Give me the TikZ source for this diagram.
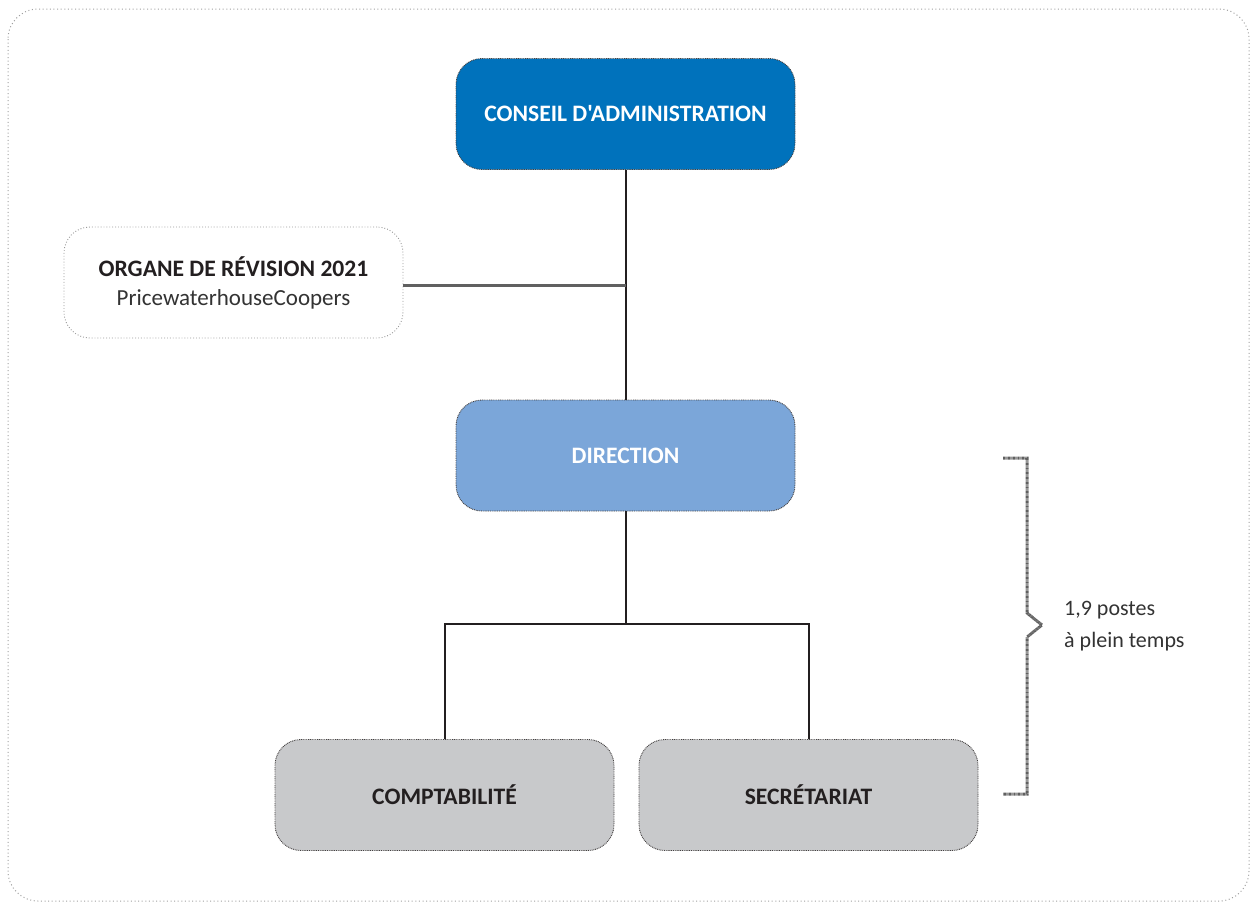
\documentclass[tikz,border=0pt]{standalone}
\usepackage{fontspec}
\setmainfont{Carlito}
\newfontfamily\labfont{Carlito}
\definecolor{cblue}{HTML}{0072BC}
\definecolor{lblue}{HTML}{7BA6D9}
\definecolor{lgray}{HTML}{C8C9CB}
\definecolor{ink}{HTML}{231F20}
\definecolor{txt}{HTML}{333333}
\tikzset{
  boxbase/.style={minimum width=339pt, minimum height=111pt, inner sep=0pt, rounded corners=26pt, align=center, font=\labfont\fontsize{23.6}{30}\selectfont\bfseries},
  dotborder/.style={draw=ink!85, line width=0.9pt, dash pattern=on 0.9pt off 0.9pt},
  bluebox/.style={boxbase, dotborder, fill=cblue, text=white},
  lbluebox/.style={boxbase, dotborder, fill=lblue, text=white},
  graybox/.style={boxbase, dotborder, fill=lgray, text=ink},
  whitebox/.style={boxbase, draw=gray!80, line width=0.9pt, dash pattern=on 0.9pt off 2pt, fill=white, text=ink},
  solidline/.style={draw=ink, line width=2pt},
  hatchline/.style={draw=gray!75!black, line width=3pt, dash pattern=on 0.55pt off 0.4pt},
}
\begin{document}
\begin{tikzpicture}[x=1pt,y=-1pt]
\useasboundingbox (0,0) rectangle (1250,903);
\begin{scope}
\clip (0,0) rectangle (1250,903);
\draw[gray!75, line width=1pt, dash pattern=on 1pt off 2.6pt, rounded corners=30pt] (8,9) rectangle (1249,901);
\end{scope}

\node[bluebox] (ca) at (625.5,114) {CONSEIL D'ADMINISTRATION};
\node[whitebox] (org) at (233.5,282.5) {ORGANE DE RÉVISION 2021\\[-1pt]{\mdseries\fontsize{23}{30}\selectfont\color{txt}PricewaterhouseCoopers}};
\node[lbluebox] (dir) at (625.5,455.5) {DIRECTION};
\node[graybox] (comp) at (444.5,795) {COMPTABILITÉ};
\node[graybox] (sec) at (808.5,795) {SECRÉTARIAT};

\draw[solidline] (ca.south) -- (dir.north);
\draw[hatchline] ([yshift=-2.5pt]org.east) -- ([yshift=-2.5pt]org.east -| ca.south);

\coordinate (jn) at (625.5,624);
\draw[solidline] (dir.south) -- (jn);
\draw[solidline] (jn) -| (comp.north);
\draw[solidline] (jn) -| (sec.north);

\draw[hatchline] (1003,458) -- (1027,458) -- (1027,613) -- (1042,625) -- (1027,637) -- (1027,794) -- (1003,794);
\node[anchor=west, align=left, text=txt, font=\labfont\fontsize{22}{32}\selectfont, inner sep=0pt] (fte) at (1064,626) {1,9 postes\\à plein temps};
\end{tikzpicture}
\end{document}
